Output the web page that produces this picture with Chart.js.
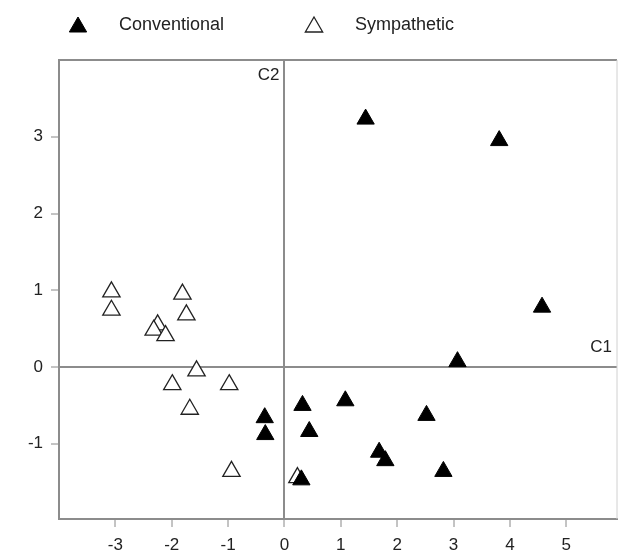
<!DOCTYPE html>
<html lang="en">
<head>
  <meta charset="UTF-8" />
  <title>Conventional vs Sympathetic</title>
  <script src="https://cdn.jsdelivr.net/npm/chart.js"></script>
  <style>
    html, body { margin: 0; background: #fff; overflow: hidden; }
    #wrap { width: 619px; height: 554px; }
    canvas { display: block; }
  </style>
</head>
<body>
  <div id="wrap"><canvas id="plot" width="619" height="554"></canvas></div>

  <script>
    // data
    const seriesNames = ['Conventional', 'Sympathetic'];
    const convX = [1.44, 3.81, 4.57, 3.07, -0.35, -0.34, 0.32, 0.44, 1.08, 2.52, 1.68, 1.79, 2.82, 0.30];
    const convY = [3.23, 2.95, 0.78, 0.07, -0.66, -0.88, -0.50, -0.84, -0.44, -0.63, -1.11, -1.22, -1.36, -1.47];
    const sympX = [-3.07, -3.07, -1.81, -1.74, -2.25, -2.32, -2.11, -1.56, -1.99, -0.98, -1.68, -0.94, 0.23];
    const sympY = [0.98, 0.74, 0.95, 0.68, 0.55, 0.48, 0.41, -0.05, -0.23, -0.23, -0.55, -1.36, -1.44];
    const xTicks = [-3, -2, -1, 0, 1, 2, 3, 4, 5];
    const yTicks = [-1, 0, 1, 2, 3];
    const axisNames = { x: 'C1', y: 'C2' };

    const FONT = "'Liberation Sans', Arial, sans-serif";

    function toPoints(xs, ys) {
      return xs.map((x, i) => ({ x: x, y: ys[i] }));
    }

    const zeroLine = ctx => (ctx.tick && ctx.tick.value === 0) ? '#8c8c8c' : 'rgba(0,0,0,0)';

    // frame on top/right + C1/C2 labels
    const decorations = {
      id: 'decorations',
      afterDraw(chart) {
        const { ctx, chartArea: a, scales } = chart;
        ctx.save();
        ctx.lineWidth = 2;
        ctx.strokeStyle = '#8c8c8c';
        ctx.beginPath();
        ctx.moveTo(a.left, a.top);
        ctx.lineTo(a.right, a.top);
        ctx.stroke();
        ctx.strokeStyle = '#d0d0d0';
        ctx.lineWidth = 1;
        ctx.beginPath();
        ctx.moveTo(a.right, a.top);
        ctx.lineTo(a.right, a.bottom);
        ctx.stroke();

        ctx.fillStyle = '#222';
        ctx.font = '17px ' + FONT;
        ctx.textAlign = 'right';
        ctx.textBaseline = 'middle';
        const x0 = scales.x.getPixelForValue(0);
        const y0 = scales.y.getPixelForValue(0);
        ctx.fillText(axisNames.y, x0 - 5, a.top + 15);
        ctx.fillText(axisNames.x, a.right - 5, y0 - 20);
        ctx.restore();
      }
    };

    // legend row above the plot
    const topLegend = {
      id: 'topLegend',
      afterDraw(chart) {
        const ctx = chart.ctx;
        const spots = [78, 314];
        ctx.save();
        chart.data.datasets.forEach((ds, i) => {
          const cx = spots[i];
          const cy = 27;
          ctx.fillStyle = ds.pointBackgroundColor;
          ctx.strokeStyle = ds.pointBorderColor;
          ctx.lineWidth = ds.pointBorderWidth;
          Chart.helpers.drawPoint(ctx, { pointStyle: 'triangle', radius: 10, rotation: 0, borderWidth: ds.pointBorderWidth }, cx, cy);
          ctx.fillStyle = '#222';
          ctx.font = '18px ' + FONT;
          ctx.textAlign = 'left';
          ctx.textBaseline = 'middle';
          ctx.fillText(ds.label, cx + 41, 25);
        });
        ctx.restore();
      }
    };

    new Chart(document.getElementById('plot'), {
      type: 'scatter',
      data: {
        datasets: [
          {
            label: seriesNames[0],
            data: toPoints(convX, convY),
            pointStyle: 'triangle',
            pointRadius: 10,
            pointHoverRadius: 10,
            pointBackgroundColor: '#000',
            pointBorderColor: '#000',
            pointBorderWidth: 1
          },
          {
            label: seriesNames[1],
            data: toPoints(sympX, sympY),
            pointStyle: 'triangle',
            pointRadius: 10,
            pointHoverRadius: 10,
            pointBackgroundColor: '#fff',
            pointBorderColor: '#222',
            pointBorderWidth: 1.3
          }
        ]
      },
      options: {
        responsive: false,
        animation: false,
        layout: { autoPadding: false, padding: { top: 60, right: 2, left: 0, bottom: 0 } },
        plugins: {
          legend: { display: false },
          tooltip: { enabled: false }
        },
        scales: {
          x: {
            type: 'linear',
            min: -4,
            max: 5.9,
            afterBuildTicks: s => { s.ticks = xTicks.map(v => ({ value: v })); },
            afterFit: s => { s.height = 35; s.paddingLeft = 0; s.paddingRight = 0; },
            border: { display: true, color: '#8c8c8c', width: 2 },
            grid: { color: zeroLine, lineWidth: 2, tickColor: '#888', tickLength: 8, tickWidth: 1 },
            ticks: { color: '#222', font: { family: FONT, size: 17 }, padding: 8, maxRotation: 0 }
          },
          y: {
            type: 'linear',
            min: -1.98,
            max: 4,
            afterBuildTicks: s => { s.ticks = yTicks.map(v => ({ value: v })); },
            afterFit: s => { s.width = 59; s.paddingTop = 0; s.paddingBottom = 0; },
            border: { display: true, color: '#8c8c8c', width: 2 },
            grid: { color: zeroLine, lineWidth: 2, tickColor: '#888', tickLength: 8, tickWidth: 1 },
            ticks: { color: '#222', font: { family: FONT, size: 17 }, padding: 8 }
          }
        }
      },
      plugins: [decorations, topLegend]
    });
  </script>
</body>
</html>
